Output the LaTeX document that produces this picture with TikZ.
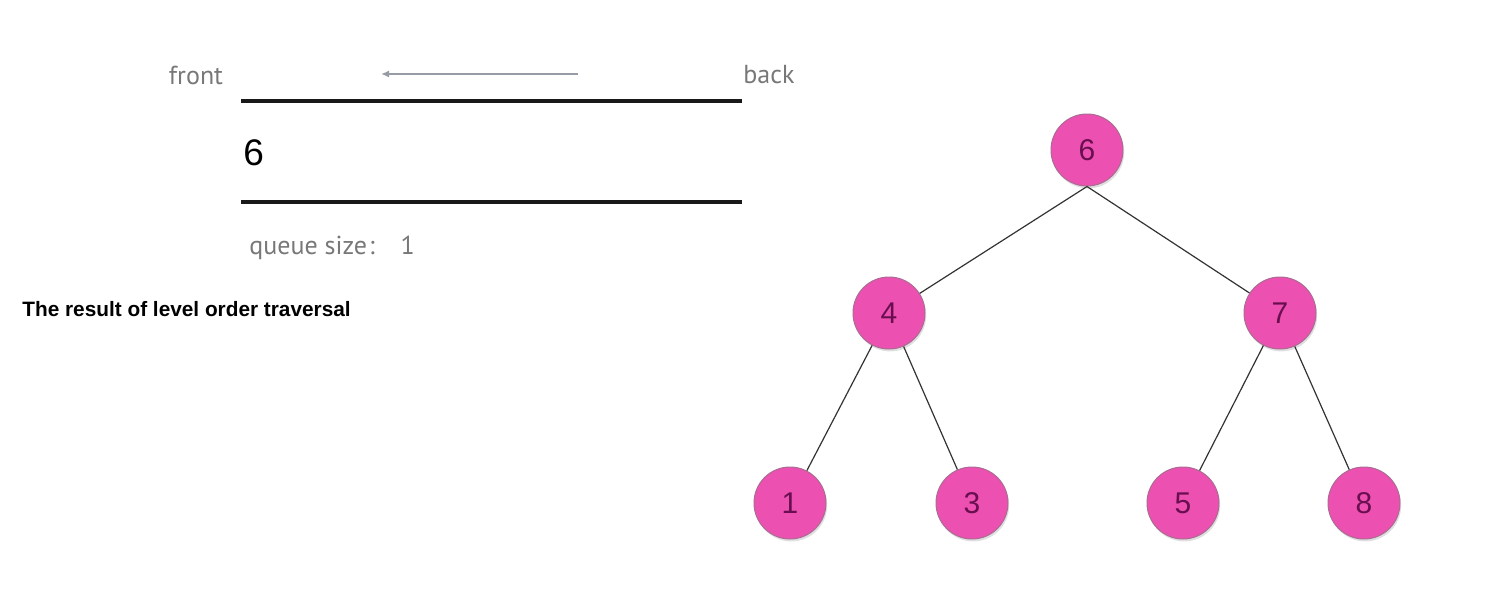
\documentclass[tikz,border=0pt]{standalone}
\usepackage{fontspec}
\setmainfont{Liberation Sans}
\newfontfamily\labelfont{PT Sans}
\usetikzlibrary{arrows.meta,shadows}
\definecolor{nodepink}{RGB}{236,80,176}
\definecolor{nodetext}{RGB}{105,15,80}
\definecolor{labelgrey}{RGB}{120,120,120}
\definecolor{arrowgrey}{RGB}{150,155,165}
\begin{document}
\begin{tikzpicture}[x=0.5pt,y=-0.5pt,
  treenode/.style={circle, minimum size=36pt, inner sep=0pt, fill=nodepink,
    draw=gray!60!nodepink, line width=0.5pt, text=nodetext,
    font=\fontsize{15}{15}\selectfont,
    drop shadow={shadow xshift=0.6pt, shadow yshift=-1.2pt, opacity=0.25}},
  edge/.style={draw=black!80, line width=0.6pt},
  qline/.style={line width=1.6pt, black!90},
  qlabel/.style={text=labelgrey, font=\labelfont\fontsize{13}{13}\selectfont}]
  \useasboundingbox (0,0) rectangle (1496,616);

  % queue
  \node[qlabel] (front) at (196,75) {front};
  \node[qlabel] (back) at (769,75) {back};
  \coordinate (arrS) at (578,74);
  \coordinate (arrE) at (381,74);
  \draw[arrowgrey, line width=1pt, -{Latex[length=4pt,width=3.5pt]}] (arrS) -- (arrE);
  \coordinate (tl) at (241,101);
  \coordinate (tr) at (742,101);
  \coordinate (bl) at (241,202);
  \coordinate (br) at (742,202);
  \draw[qline] (tl) -- (tr);
  \draw[qline] (bl) -- (br);
  \node[anchor=west, inner sep=0pt, font=\fontsize{18.5}{18.5}\selectfont] (q6) at (243,153) {6};
  \node[qlabel, anchor=west, inner sep=0pt] (qsize) at (249,248) {queue size\kern1pt:\hspace{13pt}1};

  \node[anchor=west, inner sep=0pt, font=\bfseries\fontsize{10.4}{10.4}\selectfont] (result) at (22,309) {The result of level order traversal};

  % tree
  \node[treenode] (n6) at (1087,150) {6};
  \node[treenode] (n4) at (889,313) {4};
  \node[treenode] (n7) at (1280,313) {7};
  \node[treenode] (n1) at (790,503) {1};
  \node[treenode] (n3) at (972,503) {3};
  \node[treenode] (n5) at (1183,503) {5};
  \node[treenode] (n8) at (1364,503) {8};

  \draw[edge] (n6.south) -- (n4);
  \draw[edge] (n6.south) -- (n7);
  \draw[edge] (n4) -- (n1);
  \draw[edge] (n4) -- (n3);
  \draw[edge] (n7) -- (n5);
  \draw[edge] (n7) -- (n8);
\end{tikzpicture}
\end{document}
